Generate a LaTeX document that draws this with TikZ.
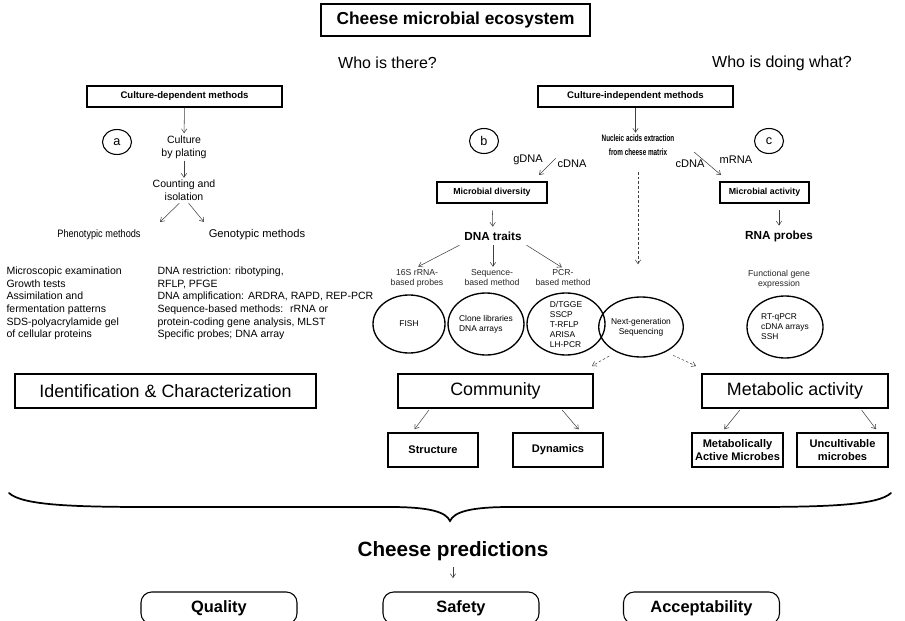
\documentclass[tikz,border=0pt]{standalone}
\usepackage{fontspec}
\setmainfont{Liberation Sans}
\newfontfamily\condfont[FakeStretch=0.85]{Liberation Sans}
\newfontfamily\narrowfont[FakeStretch=0.68]{Liberation Sans}
\usetikzlibrary{arrows.meta,shapes.geometric}

\tikzset{every picture/.style={line width=0.75pt}}
\tikzset{
  arr/.style={draw=black!75, line width=0.4pt, -{Straight Barb[length=3pt,width=4pt]}},
  darr/.style={arr, dash pattern=on 2pt off 1.5pt},
  box/.style={draw, line width=1pt, inner sep=0pt, align=center},
  smallbox/.style={box, minimum height=15.75pt, font=\bfseries\fontsize{7.2}{8}\selectfont},
  bigbox/.style={box, line width=0.8pt, minimum height=25.5pt, font=\fontsize{13.4}{15}\selectfont},
  leafbox/.style={box, line width=0.8pt, minimum width=67.5pt, minimum height=25.5pt, font=\bfseries\fontsize{8.3}{9.5}\selectfont},
  endbox/.style={draw, line width=0.8pt, rounded corners=8pt, minimum width=117pt, minimum height=24pt, font=\bfseries\fontsize{12.3}{14}\selectfont},
  oval/.style={ellipse, draw, line width=1pt, inner sep=0pt, align=left, font=\fontsize{6.3}{7.5}\selectfont},
  tag/.style={ellipse, draw, line width=0.8pt, minimum width=21.75pt, minimum height=18.75pt, inner sep=0pt, font=\fontsize{9.5}{11}\selectfont},
  txt/.style={align=center, inner sep=1.5pt, font=\fontsize{7.9}{9.5}\selectfont},
  lbl/.style={align=center, inner sep=1pt, text=black!85, font=\fontsize{6.5}{7.5}\selectfont},
  nalabel/.style={inner sep=1pt, font=\fontsize{8.3}{10}\selectfont},
}

\begin{document}
\begin{tikzpicture}[x=0.75pt,y=0.75pt,yscale=-1,xscale=1]
\clip (0,0) rectangle (905,620);

%Shape: Rectangle
\node [box, minimum width=201.75pt, minimum height=24pt, font=\bfseries\fontsize{13}{15}\selectfont] (eco) at (455.5,20) {Cheese microbial ecosystem};

% Text Node
\node [font=\fontsize{12}{14}\selectfont] (there) at (387.5,63) {Who is there?};
% Text Node
\node [font=\fontsize{12}{14}\selectfont] (what) at (782,63) {Who is doing what?};

%Culture-dependent side
\node [smallbox, minimum width=146.25pt] (cdm) at (184.5,96.5) {Culture-dependent methods};
\node [tag] (ta) at (117,142) {a};
\node [txt] (plate) at (184,147) {Culture\\by plating};
\node [txt] (count) at (184,190.5) {Counting and\\isolation};
\coordinate (ph) at (160,222);
\coordinate (ge) at (204,222);
\node [txt, font=\condfont\fontsize{8.1}{9.5}\selectfont] (pheno) at (99,235) {Phenotypic methods};
\node [txt, font=\fontsize{8.4}{9.5}\selectfont] (geno) at (257,235) {Genotypic methods};
% Text Node
\node [txt, align=left, anchor=west, inner sep=0pt] (plist) at (6,303.5) {Microscopic examination\\Growth tests\\Assimilation and\\fermentation patterns\\SDS-polyacrylamide gel\\of cellular proteins};
% Text Node
\node [txt, align=left, anchor=west, inner sep=0pt] (glist) at (157,303.5) {DNA restriction: ribotyping,\\RFLP, PFGE\\DNA amplification: ARDRA, RAPD, REP-PCR\\Sequence-based methods: \ rRNA or\\protein-coding gene analysis, MLST\\Specific probes; DNA array};
\node [bigbox, minimum width=225.75pt] (idc) at (165.5,391) {Identification \& Characterization};

%Straight Lines
\draw [arr] (cdm) -- (plate);
\draw [arr] (plate) -- (count);
\draw [arr] (count.250) -- (ph);
\draw [arr] (count.290) -- (ge);

%Culture-independent side
\node [smallbox, minimum width=146.25pt] (cim) at (635.5,96.5) {Culture-independent methods};
\node [tag] (tb) at (484,141) {b};
\node [tag] (tc) at (769,141) {c};
\node [align=center, inner sep=1pt, font=\narrowfont\bfseries\fontsize{7}{10.5}\selectfont] (nuc) at (638,145) {Nucleic acids extraction\\from cheese matrix};
\node [nalabel] (gdna) at (528,160) {gDNA};
\node [nalabel] (cdna) at (572,164) {cDNA};
\node [nalabel] (cdnb) at (690,164) {cDNA};
\node [nalabel] (mrna) at (736,160) {mRNA};
\node [smallbox, minimum width=82.5pt, font=\bfseries\fontsize{6.6}{8}\selectfont] (mdiv) at (492,192.5) {Microbial diversity};
\node [smallbox, minimum width=66.75pt, font=\bfseries\fontsize{6.6}{8}\selectfont] (mact) at (764.5,192.5) {Microbial activity};
\coordinate (g2) at (539,175);
\coordinate (m1) at (694,152);
\coordinate (m2) at (721,175);
\node [font=\bfseries\fontsize{8.8}{10}\selectfont] (dnat) at (493,236) {DNA traits};
\node [font=\bfseries\fontsize{8.8}{10}\selectfont] (rnap) at (779,236) {RNA probes};

%Straight Lines
\draw [arr] (cim.south) -- (cim.south |- nuc.north);
\draw [arr] (cdna.north west) -- (g2);
\draw [arr] (m1) -- (m2);
\draw [arr, shorten <=5pt] (mdiv) -- (dnat);
\draw [arr, shorten <=5pt] (mact.south -| rnap.north) -- (rnap.north);

% Text Node
\node [lbl] (l16) at (417,278) {16S rRNA-\\based probes};
\node [lbl] (lseq) at (492,278) {Sequence-\\based method};
\node [lbl] (lpcr) at (563,278) {PCR-\\based method};
\node [lbl] (lfun) at (779,279) {Functional gene\\expression};
\draw [arr, shorten >=1pt] (dnat.south west) -- (l16.north);
\draw [arr, shorten >=1pt] (dnat.south) -- (dnat.south |- lseq.north);
\draw [arr, shorten >=1pt] (dnat.south east) -- (lpcr.north);

%Shape: Ellipse
\node [oval, minimum width=54pt, minimum height=43.5pt] (fish) at (409,324) {FISH};
\node [oval, minimum width=55.5pt, minimum height=46.5pt] (clone) at (486,324) {Clone libraries\\DNA arrays};
\node [oval, inner ysep=-2pt, minimum width=58.5pt, minimum height=46.5pt] (pcr) at (566,324) {D/TGGE\\SSCP\\T-RFLP\\ARISA\\LH-PCR};
\node [oval, align=center, minimum width=51pt, minimum height=45pt] (ngs) at (641,327) {Next-generation\\Sequencing};
\node [oval, minimum width=57pt, minimum height=46.5pt] (rtq) at (785,327) {RT-qPCR\\cDNA arrays\\SSH};

%Dashed Lines
\coordinate (n1) at (592,366);
\coordinate (n2) at (696,366);
\draw [darr, shorten <=11pt, shorten >=24pt] (nuc.south) -- (nuc.south |- ngs.north);
\draw [darr, shorten <=6pt] (ngs.225) -- (n1);
\draw [darr, shorten <=6pt] (ngs.315) -- (n2);

%Shape: Rectangle
\node [bigbox, minimum width=146.25pt] (comm) at (495.5,391) {Community};
\node [bigbox, minimum width=139.5pt] (meta) at (795,391) {Metabolic activity};
\node [leafbox] (strc) at (433,450) {Structure};
\node [leafbox] (dyna) at (558,450) {Dynamics};
\node [leafbox, minimum width=68.25pt] (mam) at (737.5,450) {Metabolically\\Active Microbes};
\node [leafbox, minimum width=68.25pt] (unc) at (842.5,450) {Uncultivable\\microbes};

%Straight Lines
\draw [arr, shorten <=1.5pt, shorten >=3pt] (comm.195) -- (strc.140);
\draw [arr, shorten <=1.5pt, shorten >=3pt] (comm.345) -- (dyna.37);
\draw [arr, shorten <=1.5pt, shorten >=3pt] (meta.198) -- (mam.132);
\draw [arr, shorten <=1.5pt, shorten >=3pt] (meta.345) -- (unc.26);

%Curve Lines
\draw [line width=1.3pt, line cap=round] (9,493) .. controls (22,505) and (70,507) .. (150,507) -- (390,507) .. controls (430,507) and (446,512) .. (450,521) .. controls (454,512) and (470,507) .. (510,507) -- (750,507) .. controls (830,507) and (878,505) .. (891,493);

% Text Node
\node [font=\bfseries\fontsize{15.5}{17}\selectfont] (cpred) at (453,551) {Cheese predictions};
\node [endbox] (qual) at (219,608) {Quality};
\node [endbox] (safe) at (461,608) {Safety};
\node [endbox] (acce) at (701.5,608) {Acceptability};
\draw [arr, shorten <=1pt, shorten >=10pt] (cpred.south) -- (cpred.south |- safe.north);

\end{tikzpicture}
\end{document}
